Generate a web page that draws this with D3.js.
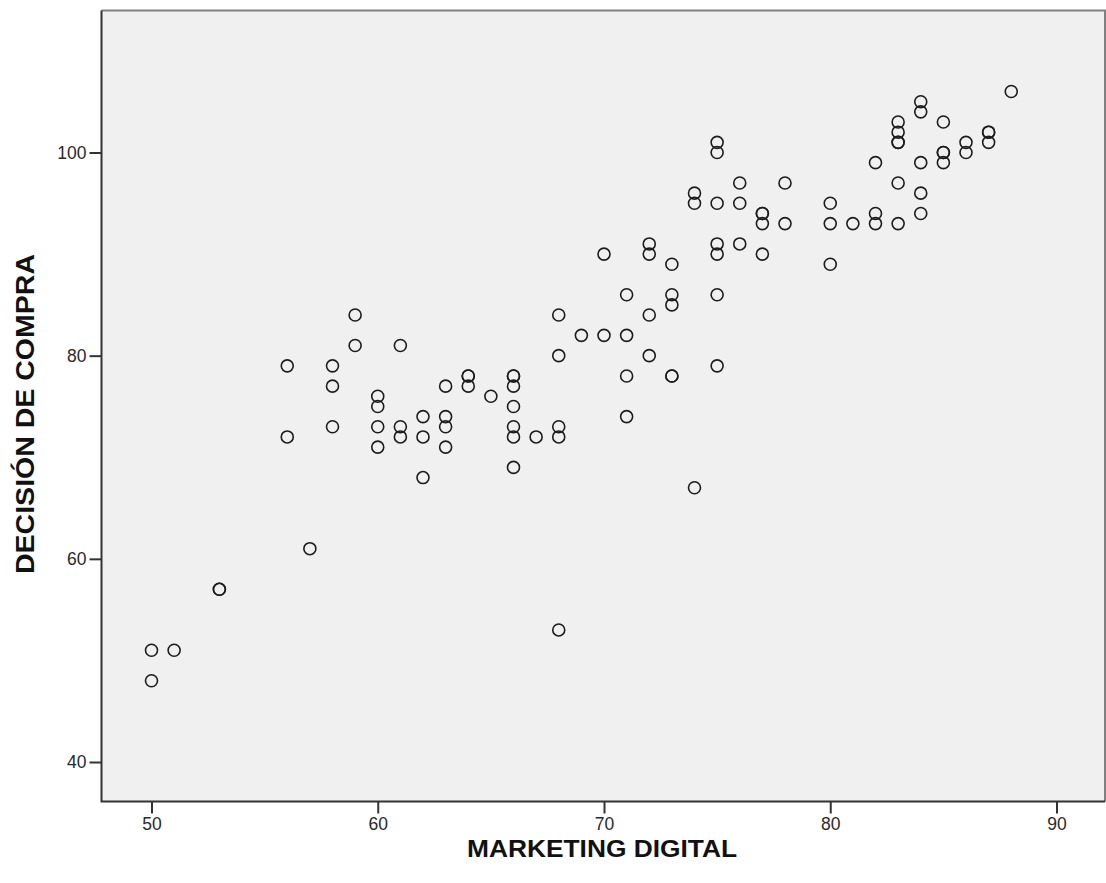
<!DOCTYPE html>
<html>
<head>
<meta charset="utf-8">
<script src="https://cdn.jsdelivr.net/npm/d3@7"></script>
<style>
  html, body { margin: 0; padding: 0; background: #ffffff; }
  svg { display: block; }
</style>
</head>
<body>
<svg id="chart" width="1106" height="883"></svg>
<script>
// Puntuaciones de cada encuestado (pares en el mismo orden)
const marketingDigital = [
  50, 50,
  51,
  53, 53,
  56, 56,
  57,
  58, 58, 58,
  59, 59,
  60, 60, 60, 60,
  61, 61, 61,
  62, 62, 62,
  63, 63, 63, 63,
  64, 64, 64,
  65,
  66, 66, 66, 66, 66, 66, 66,
  67,
  68, 68, 68, 68, 68,
  69,
  70, 70,
  71, 71, 71, 71,
  72, 72, 72, 72,
  73, 73, 73, 73, 73,
  74, 74, 74,
  75, 75, 75, 75, 75, 75, 75,
  76, 76, 76,
  77, 77, 77, 77,
  78, 78,
  80, 80, 80,
  81,
  82, 82, 82,
  83, 83, 83, 83, 83, 83,
  84, 84, 84, 84, 84,
  85, 85, 85, 85,
  86, 86,
  87, 87, 87,
  88
];
const decisionCompra = [
  51, 48,
  51,
  57, 57,
  79, 72,
  61,
  79, 77, 73,
  84, 81,
  76, 75, 73, 71,
  81, 73, 72,
  74, 72, 68,
  77, 74, 73, 71,
  78, 78, 77,
  76,
  78, 78, 77, 75, 73, 72, 69,
  72,
  84, 80, 73, 72, 53,
  82,
  90, 82,
  86, 82, 78, 74,
  91, 90, 84, 80,
  89, 86, 85, 78, 78,
  96, 95, 67,
  101, 100, 95, 91, 90, 86, 79,
  97, 95, 91,
  94, 94, 93, 90,
  97, 93,
  95, 93, 89,
  93,
  99, 94, 93,
  103, 102, 101, 101, 97, 93,
  105, 104, 99, 96, 94,
  103, 100, 100, 99,
  101, 100,
  102, 102, 101,
  106
];
const xTicks = [50, 60, 70, 80, 90];
const yTicks = [40, 60, 80, 100];
const xTitle = "MARKETING DIGITAL";
const yTitle = "DECISIÓN DE COMPRA";

const svg = d3.select("#chart");

// Marco del área de trazado
const frame = { left: 101.5, right: 1105, top: 10.5, bottom: 801.5 };

const x = d3.scaleLinear().domain([50, 90]).range([151.5, 1056.5]);
const y = d3.scaleLinear().domain([40, 100]).range([762, 152.5]);

// Fondo gris del área de trazado
svg.append("rect")
  .attr("x", frame.left)
  .attr("y", frame.top)
  .attr("width", frame.right - frame.left)
  .attr("height", frame.bottom - frame.top)
  .attr("fill", "#f0f0f0");

// Bordes superior y derecho (gris)
svg.append("path")
  .attr("d", `M${frame.left},${frame.top}H${frame.right}V${frame.bottom}`)
  .attr("fill", "none")
  .attr("stroke", "#808080")
  .attr("stroke-width", 2);

// Ejes
const xAxis = d3.axisBottom(x).tickValues(xTicks).tickSize(12).tickPadding(4).tickFormat(d3.format("d"));
const yAxis = d3.axisLeft(y).tickValues(yTicks).tickSize(12).tickPadding(3).tickFormat(d3.format("d"));

const gx = svg.append("g")
  .attr("transform", `translate(0,${frame.bottom})`)
  .call(xAxis);
const gy = svg.append("g")
  .attr("transform", `translate(${frame.left},0)`)
  .call(yAxis);

[gx, gy].forEach(g => {
  g.select(".domain").remove();
  g.selectAll(".tick line").attr("stroke", "#333").attr("stroke-width", 2);
  g.selectAll(".tick text")
    .attr("fill", "#2a2a2a")
    .style("font-family", "'Liberation Sans', Arial, sans-serif")
    .style("font-size", "17.5px");
});

// Líneas de eje izquierda e inferior
svg.append("path")
  .attr("d", `M${frame.left},${frame.top}V${frame.bottom}H${frame.right}`)
  .attr("fill", "none")
  .attr("stroke", "#333")
  .attr("stroke-width", 2);

// Puntos
svg.append("g")
  .selectAll("circle")
  .data(d3.range(marketingDigital.length))
  .join("circle")
  .attr("cx", i => x(marketingDigital[i]))
  .attr("cy", i => y(decisionCompra[i]))
  .attr("r", 6)
  .attr("fill", "none")
  .attr("stroke", "#1c1c1c")
  .attr("stroke-width", 1.6);

// Títulos de los ejes
svg.append("text")
  .attr("x", 602)
  .attr("y", 857)
  .attr("text-anchor", "middle")
  .attr("textLength", 270)
  .attr("lengthAdjust", "spacingAndGlyphs")
  .style("font-family", "'Liberation Sans', Arial, sans-serif")
  .style("font-weight", "bold")
  .style("font-size", "24px")
  .attr("fill", "#111")
  .text(xTitle);

svg.append("text")
  .attr("transform", "translate(34,414) rotate(-90)")
  .attr("text-anchor", "middle")
  .attr("textLength", 320)
  .attr("lengthAdjust", "spacingAndGlyphs")
  .style("font-family", "'Liberation Sans', Arial, sans-serif")
  .style("font-weight", "bold")
  .style("font-size", "26px")
  .attr("fill", "#111")
  .text(yTitle);
</script>
</body>
</html>
